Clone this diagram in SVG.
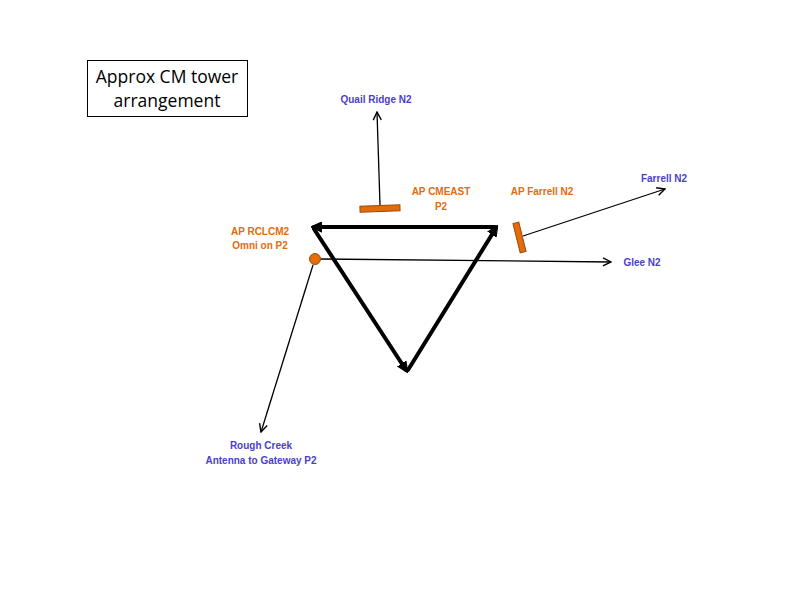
<svg xmlns="http://www.w3.org/2000/svg" width="800" height="600" viewBox="0 0 800 600">
<defs>
<style>
.blue{font-family:"Liberation Sans",Arial,sans-serif;font-size:10px;font-weight:bold;fill:#4b3fc7;text-anchor:middle}
.orange{font-family:"Liberation Sans",Arial,sans-serif;font-size:10px;font-weight:bold;fill:#e46c0a;text-anchor:middle}
.title{font-family:"Open Sans","Liberation Sans",sans-serif;font-size:17.5px;fill:#000;text-anchor:middle}
.thin{stroke:#000;stroke-width:1.3;fill:none}
.thick{stroke:#000;stroke-width:4;fill:none;stroke-linecap:round}
.ant{fill:#e46c0a;stroke:#9a4a08;stroke-width:1}
</style>
<marker id="open" viewBox="0 0 10 10" refX="9" refY="5" markerWidth="10" markerHeight="10" markerUnits="userSpaceOnUse" orient="auto">
<path d="M1,1 L9,5 L1,9" fill="none" stroke="#000" stroke-width="1.4"/>
</marker>
<marker id="solid" viewBox="0 0 10 10" refX="7" refY="5" markerWidth="11" markerHeight="11" markerUnits="userSpaceOnUse" orient="auto">
<path d="M0,0.5 L10,5 L0,9.5 Z" fill="#000" stroke="#000" stroke-width="1" stroke-linejoin="round"/>
</marker>
</defs>
<rect width="800" height="600" fill="#fff"/>

<g id="title">
<rect x="87.5" y="60.5" width="160" height="56" fill="#fff" stroke="#000" stroke-width="1"/>
<text class="title" x="167" y="83">Approx CM tower</text>
<text class="title" x="167" y="107">arrangement</text>
</g>

<g id="connectors">
<line class="thick" x1="495" y1="227" x2="314" y2="227" marker-end="url(#solid)"/>
<line class="thick" x1="314" y1="229" x2="406" y2="370" marker-end="url(#solid)"/>
<line class="thick" x1="408" y1="370" x2="496" y2="228" marker-end="url(#solid)"/>
<line class="thin" x1="380" y1="205" x2="377" y2="112" marker-end="url(#open)"/>
<line class="thin" x1="523" y1="236" x2="665" y2="189" marker-end="url(#open)"/>
<line class="thin" x1="321" y1="259" x2="611" y2="262" marker-end="url(#open)"/>
<line class="thin" x1="313" y1="265" x2="261" y2="432" marker-end="url(#open)"/>
</g>

<g id="ap-cmeast">
<rect class="ant" x="360" y="205.5" width="40" height="6" transform="rotate(-2 380 208.5)"/>
<text class="orange" x="441" y="195">AP CMEAST</text>
<text class="orange" x="441" y="210">P2</text>
</g>

<g id="ap-farrell">
<rect class="ant" x="516.5" y="222.5" width="6" height="30" transform="rotate(-14 519.5 237.5)"/>
<text class="orange" x="542" y="195">AP Farrell  N2</text>
</g>

<g id="ap-rclcm2">
<circle class="ant" cx="315" cy="259" r="5.5"/>
<text class="orange" x="260" y="235">AP RCLCM2</text>
<text class="orange" x="260" y="249">Omni on P2</text>
</g>

<g id="quail-ridge"><text class="blue" x="376" y="103">Quail Ridge N2</text></g>
<g id="farrell"><text class="blue" x="664" y="182">Farrell N2</text></g>
<g id="glee"><text class="blue" x="642" y="266">Glee  N2</text></g>
<g id="rough-creek">
<text class="blue" x="261" y="449">Rough Creek</text>
<text class="blue" x="261" y="464">Antenna to Gateway P2</text>
</g>
</svg>
